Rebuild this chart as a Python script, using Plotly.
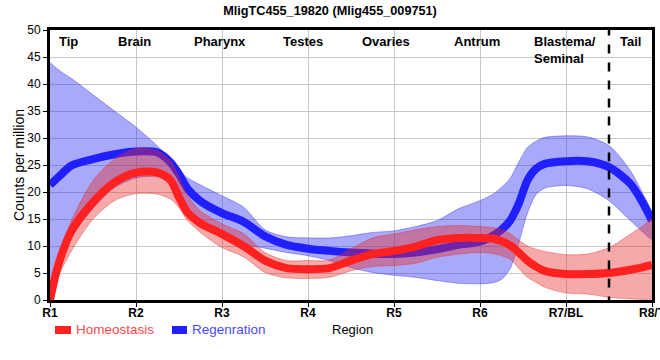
import plotly.graph_objects as go

# ---- data ----
positions = [1, 1.1, 1.25, 1.5, 1.75, 2, 2.25, 2.4, 2.5, 2.6, 2.75, 3, 3.25, 3.5, 3.75, 4, 4.25,
             4.5, 4.75, 5, 5.25, 5.5, 5.75, 6, 6.15, 6.25, 6.35, 6.45, 6.55, 6.65, 6.75, 7,
             7.25, 7.5, 7.75, 7.9, 8]

regen_mean = [21.3, 22.8, 24.9, 26.1, 27.0, 27.5, 27.3, 25.5, 23.3, 20.6, 18.3, 16.1, 14.5, 11.8,
              10.2, 9.5, 9.1, 8.8, 8.6, 8.5, 8.8, 9.4, 10.2, 10.8, 11.9, 13.0, 14.7, 17.8, 22.1,
              24.3, 25.2, 25.7, 25.7, 24.6, 21.5, 17.8, 14.7]
regen_upper = [44.0, 42.6, 41.0, 38.0, 35.0, 32.0, 28.5, 26.0, 24.0, 22.6, 21.3, 19.3, 17.2, 13.0,
               11.7, 11.5, 11.5, 11.9, 12.5, 12.8, 13.6, 14.7, 16.9, 18.4, 19.6, 20.9, 22.5,
               25.5, 28.2, 29.4, 30.1, 30.4, 30.2, 28.6, 23.9, 19.5, 16.0]
regen_lower = [0.5, 5.5, 11.5, 17.0, 20.8, 22.6, 22.8, 21.5, 18.5, 15.7, 13.7, 11.6, 10.3, 9.6,
               8.8, 8.2, 7.3, 6.0, 5.1, 4.6, 4.2, 3.6, 3.1, 3.0, 3.2, 3.8, 5.8, 10.5, 16.0,
               19.5, 20.7, 21.2, 20.6, 18.4, 14.7, 12.5, 11.3]

homeo_mean = [0.0, 6.7, 12.8, 18.1, 21.8, 23.6, 23.6, 22.2, 19.0, 16.2, 14.2, 12.2, 10.0, 7.3,
              5.9, 5.7, 5.9, 7.3, 8.5, 9.1, 9.9, 11.1, 11.5, 11.5, 11.4, 10.9, 10.1, 8.8, 7.3,
              6.2, 5.4, 4.8, 4.8, 5.0, 5.6, 6.1, 6.5]
homeo_upper = [0.3, 8.0, 14.7, 22.1, 26.1, 28.0, 27.6, 25.8, 22.7, 19.3, 16.5, 14.1, 12.3, 8.8,
               7.3, 7.3, 7.4, 9.5, 11.5, 12.2, 13.0, 13.6, 13.8, 13.6, 13.4, 13.1, 12.3, 11.1,
               10.0, 9.4, 9.0, 8.4, 8.5, 9.7, 12.2, 13.8, 15.0]
homeo_lower = [0.0, 4.5, 9.1, 15.0, 18.4, 19.7, 19.6, 18.7, 17.1, 14.7, 12.5, 9.7, 8.0, 5.1,
               4.1, 4.0, 4.2, 5.4, 6.2, 6.4, 6.8, 7.9, 8.5, 8.8, 8.6, 8.2, 7.6, 5.9, 4.2,
               3.3, 2.4, 1.3, 1.1, 0.5, 0.2, 0.1, 0.0]

tick_vals = [1, 2, 3, 4, 5, 6, 7, 8]
tick_labels = ["R1", "R2", "R3", "R4", "R5", "R6", "R7/BL", "R8/T"]
region_names = ["Tip", "Brain", "Pharynx", "Testes", "Ovaries", "Antrum", "Blastema/<br>Seminal", "Tail"]
region_pos = [1.21, 1.98, 2.98, 3.94, 4.91, 5.97, 6.99, 7.75]
boundary = 7.5
series_names = ["Homeostasis", "Regenration"]

RED = "rgb(255,32,32)"
BLUE = "rgb(32,32,255)"

fig = go.Figure()

def band(upper, lower, fillcolor, edgecolor):
    fig.add_trace(go.Scatter(
        x=positions + positions[::-1], y=upper + lower[::-1],
        fill="toself", fillcolor=fillcolor, mode="lines",
        line=dict(color=edgecolor, width=0.8, shape="spline", smoothing=0.8),
        hoverinfo="skip", showlegend=False))

band(regen_upper, regen_lower, "rgba(40,40,240,0.4)", "rgba(40,40,240,0.5)")
fig.add_trace(go.Scatter(x=positions, y=regen_mean, mode="lines", name=series_names[1],
                         line=dict(color=BLUE, width=8, shape="spline", smoothing=0.8),
                         showlegend=False))
band(homeo_upper, homeo_lower, "rgba(230,40,40,0.4)", "rgba(230,40,40,0.5)")
fig.add_trace(go.Scatter(x=positions, y=homeo_mean, mode="lines", name=series_names[0],
                         line=dict(color=RED, width=8, shape="spline", smoothing=0.8),
                         showlegend=False))

fig.add_shape(type="line", x0=boundary, x1=boundary, y0=-1, y1=50, xref="x", yref="y",
              line=dict(color="black", width=2.5, dash="dash"))

for name, pos in zip(region_names, region_pos):
    fig.add_annotation(x=pos, y=49.6, xref="x", yref="y", text="<b>%s</b>" % name,
                       showarrow=False, yanchor="top", align="left",
                       font=dict(family="Liberation Sans, Arial", size=13, color="black"))

# legend (swatch + coloured label), below the plot
legend_items = [(series_names[0], RED, "#ff4a4a", 0.0083, 0.0349, 0.0399),
                (series_names[1], BLUE, "#4a4aff", 0.2027, 0.2276, 0.2326)]
for label, swatch, txtcol, x0, x1, xt in legend_items:
    fig.add_shape(type="rect", xref="paper", yref="paper", x0=x0, x1=x1, y0=-0.0963, y1=-0.1259,
                  fillcolor=swatch, line=dict(width=0))
    fig.add_annotation(x=xt, y=-0.111, xref="paper", yref="paper", text=label,
                       showarrow=False, xanchor="left", yanchor="middle",
                       font=dict(family="Liberation Sans, Arial", size=13.5, color=txtcol))

fig.add_annotation(x=0.502, y=-0.111, xref="paper", yref="paper", text="Region",
                   showarrow=False, yanchor="middle", xanchor="center",
                   font=dict(family="Liberation Sans, Arial", size=13, color="black"))

fig.update_layout(
    width=660, height=360,
    margin=dict(l=50, r=8, t=30, b=60, autoexpand=False),
    paper_bgcolor="white", plot_bgcolor="white",
    showlegend=False,
    title=dict(text="<b>MligTC455_19820 (Mlig455_009751)</b>", x=0.5, xanchor="center",
               y=0.972, yanchor="middle", yref="container",
               font=dict(family="Liberation Sans Narrow, Liberation Sans, Arial", size=12.7, color="black")),
    font=dict(family="Liberation Sans, Arial", color="black"),
)
fig.update_xaxes(range=[1, 8], tickvals=tick_vals, ticktext=["<b>%s</b>" % t for t in tick_labels],
                 tickfont=dict(size=12, family="Liberation Sans, Arial"),
                 ticklabeloverflow="allow", automargin=False, ticklabelstandoff=-4,
                 showgrid=True, gridcolor="#c8c8c8", gridwidth=1,
                 showline=True, linecolor="black", linewidth=3, mirror=True,
                 ticks="outside", ticklen=4, tickcolor="black", zeroline=False)
fig.update_yaxes(range=[0, 50], dtick=5, tickfont=dict(size=12), automargin=False,
                 showgrid=True, gridcolor="#c8c8c8", gridwidth=1,
                 showline=True, linecolor="black", linewidth=3, mirror=True,
                 ticks="outside", ticklen=4, tickcolor="black", zeroline=False,
                 title=dict(text="Counts per million", standoff=0, font=dict(size=14)))

fig.write_html("out.html", config={"displayModeBar": False},
               post_script="document.body.style.margin='0';document.body.style.overflow='hidden';")
